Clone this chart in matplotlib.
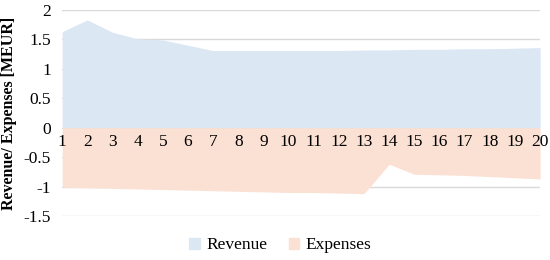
import numpy as np
import matplotlib.pyplot as plt
from matplotlib.patches import Patch

periods = list(range(1, 21))
revenue = [1.63, 1.83, 1.62, 1.51, 1.49, 1.40, 1.31, 1.31, 1.31, 1.31,
           1.31, 1.31, 1.32, 1.32, 1.33, 1.33, 1.34, 1.34, 1.35, 1.36]
expenses = [-1.01, -1.02, -1.03, -1.04, -1.05, -1.06, -1.07, -1.08, -1.09, -1.10,
            -1.10, -1.11, -1.12, -0.62, -0.79, -0.80, -0.81, -0.83, -0.85, -0.87]

plt.rcParams['font.family'] = ['Liberation Serif', 'DejaVu Serif']

fig = plt.figure(figsize=(5.5, 2.6), dpi=100)
ax = fig.add_axes([0.113, 0.169, 0.869, 0.793])

rev_color = '#dce7f4'
exp_color = '#fbe1d3'

ax.fill_between(periods, 0, revenue, color=rev_color, lw=0, zorder=2)
ax.fill_between(periods, 0, expenses, color=exp_color, lw=0, zorder=2)

ax.set_xlim(1, 20)
ax.set_ylim(-1.5, 2)
ax.set_yticks([-1.5, -1, -0.5, 0, 0.5, 1, 1.5, 2])
ax.set_yticklabels(['-1.5', '-1', '-0.5', '0', '0.5', '1', '1.5', '2'])
ax.grid(axis='y', color='#d9d9d9', lw=1, zorder=1)
ax.tick_params(axis='y', length=0, labelsize=12.5, pad=8)
ax.set_xticks([])
for s in ax.spines.values():
    s.set_visible(False)

# category labels sit just below the zero line
for p in periods:
    ax.text(p, -0.11, str(p), ha='center', va='top', fontsize=12.5, zorder=3)

ax.set_ylabel('Revenue/ Expenses [MEUR]', fontsize=11.5, fontweight='bold', labelpad=5)

handles = [Patch(color=rev_color, label='Revenue'), Patch(color=exp_color, label='Expenses')]
fig.legend(handles=handles, loc='lower center', bbox_to_anchor=(0.51, -0.035), ncol=2,
           frameon=False, fontsize=12.5, handlelength=0.6, handleheight=0.6,
           columnspacing=1.2, handletextpad=0.4)

fig.savefig('out.png', dpi=100)
